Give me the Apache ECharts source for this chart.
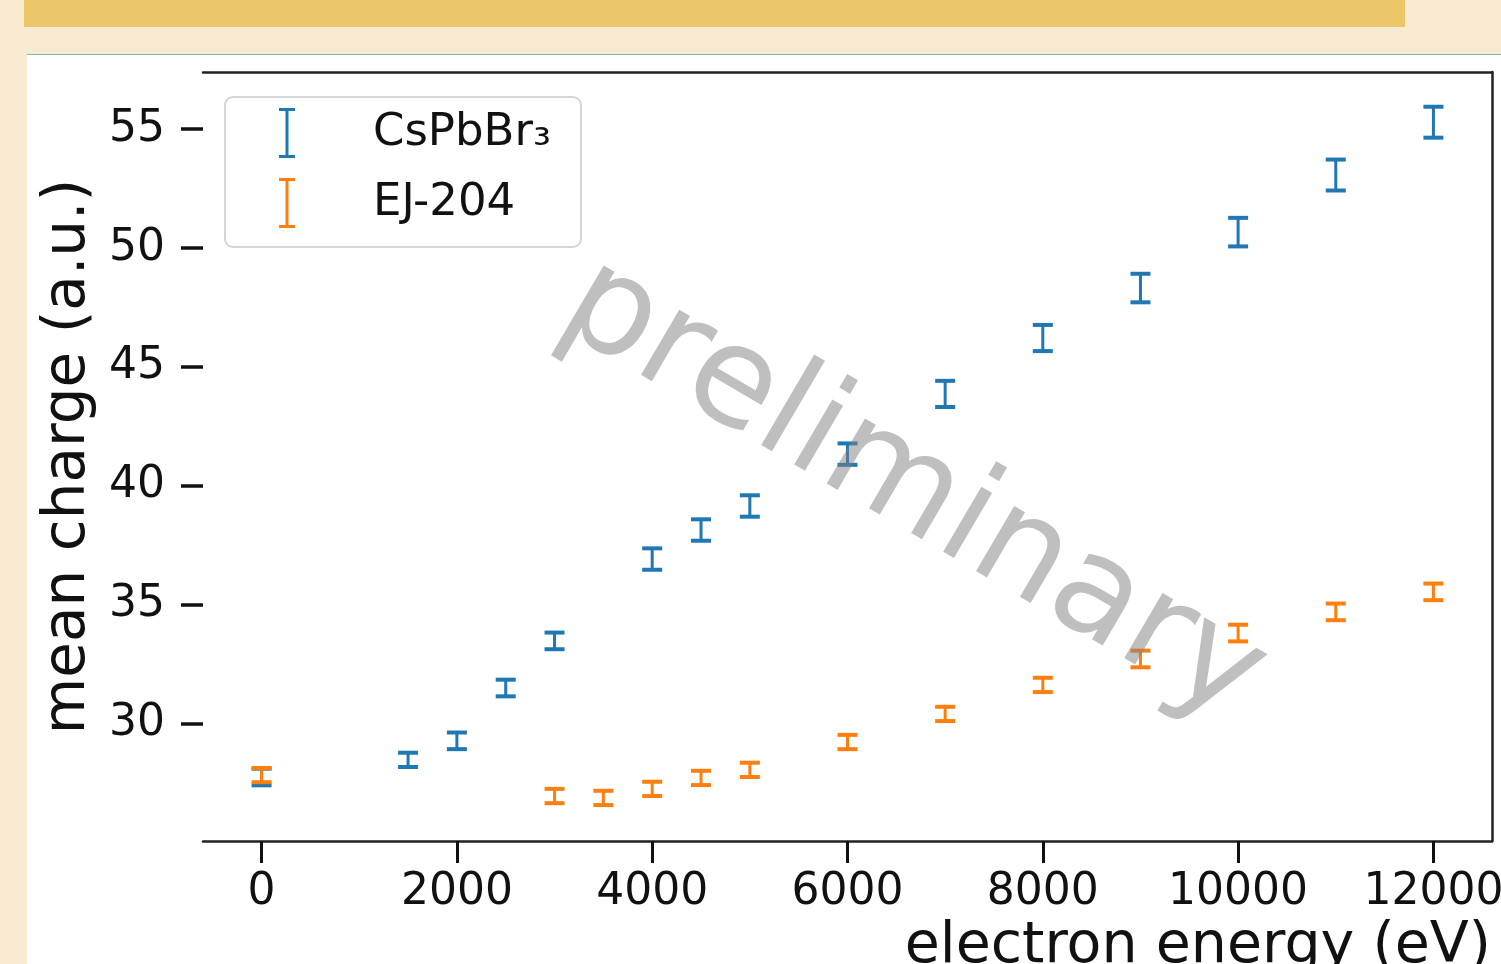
<!DOCTYPE html>
<html>
<head>
<meta charset="utf-8">
<title>mean charge vs electron energy</title>
<script src="https://cdn.jsdelivr.net/npm/echarts@6/dist/echarts.min.js"></script>
<style>
    html, body {
        margin: 0;
        padding: 0;
        width: 1501px;
        height: 964px;
        overflow: hidden;
        background: #f9ebd1;
    }
    .topBar {
        position: absolute;
        left: 24px;
        top: 0;
        width: 1381px;
        height: 27px;
        background: #ebc76a;
    }
    .panel {
        position: absolute;
        left: 27px;
        top: 54px;
        right: 0;
        bottom: 0;
        background: #fff;
        border-top: 1px solid #7db9a5;
    }
    #chart {
        position: absolute;
        left: 0;
        top: 0;
        width: 1501px;
        height: 964px;
    }
</style>
</head>
<body>
<div class="topBar"></div>
<div class="panel"></div>
<div id="chart"></div>
<script>
    // CsPbBr3 measurements
    let energyCs = [0, 1500, 2000, 2500, 3000, 4000, 4500, 5000, 6000, 7000, 8000, 9000, 10000, 11000, 12000];
    let chargeCs = [27.77, 28.49, 29.29, 31.51, 33.49, 36.93, 38.15, 39.16, 41.34, 43.87, 46.22, 48.32, 50.67, 53.07, 55.29];
    let errCs = [0.35, 0.3, 0.35, 0.35, 0.35, 0.45, 0.45, 0.45, 0.45, 0.55, 0.55, 0.6, 0.6, 0.65, 0.65];

    // EJ-204 measurements
    let energyEj = [0, 3000, 3500, 4000, 4500, 5000, 6000, 7000, 8000, 9000, 10000, 11000, 12000];
    let chargeEj = [27.85, 26.97, 26.89, 27.27, 27.73, 28.07, 29.24, 30.42, 31.64, 32.73, 33.82, 34.71, 35.55];
    let errEj = [0.3, 0.3, 0.3, 0.3, 0.3, 0.3, 0.3, 0.3, 0.3, 0.35, 0.35, 0.35, 0.35];

    let xTicks = [0, 2000, 4000, 6000, 8000, 10000, 12000];
    let yTicks = [30, 35, 40, 45, 50, 55];

    const FONT = 'DejaVu Sans';

    function toRows(xs, ys, es) {
        let result = [];
        for (let i = 0; i < xs.length; i++) {
            result.push([xs[i], ys[i], es[i]]);
        }
        return result;
    }

    // vertical bar with caps, like matplotlib errorbar(fmt='none', capsize=...)
    function errorBar(params, api) {
        let x = api.value(0);
        let y = api.value(1);
        let e = api.value(2);
        let hi = api.coord([x, y + e]);
        let lo = api.coord([x, y - e]);
        let half = 10;
        let color = api.visual('color');
        let stem = {stroke: color, lineWidth: 3, fill: null};
        let cap = {stroke: color, lineWidth: 4, fill: null};
        return {
            type: 'group',
            children: [
                {type: 'line', shape: {x1: hi[0], y1: hi[1], x2: lo[0], y2: lo[1]}, style: stem},
                {type: 'line', shape: {x1: hi[0] - half, y1: hi[1], x2: hi[0] + half, y2: hi[1]}, style: cap},
                {type: 'line', shape: {x1: lo[0] - half, y1: lo[1], x2: lo[0] + half, y2: lo[1]}, style: cap}
            ]
        };
    }

    let spine = {show: true, onZero: false, lineStyle: {color: '#222', width: 2.5}};
    let plain = function (v) {
        return String(v);
    };

    let option = {
        animation: false,
        textStyle: {fontFamily: FONT},
        grid: {left: 203, right: 9, top: 72, bottom: 123, containLabel: false, outerBoundsMode: 'none'},
        legend: {
            orient: 'vertical',
            left: 225,
            top: 97,
            padding: [11, 30, 19, 54],
            itemGap: 20,
            itemWidth: 16,
            itemHeight: 50,
            icon: 'path://M0,0H16V3H9.5V47H16V50H0V47H6.5V3H0Z',
            backgroundColor: '#fff',
            borderColor: '#d6d6d6',
            borderWidth: 2,
            borderRadius: 8,
            textStyle: {fontFamily: FONT, fontSize: 45, color: '#111', padding: [8, 0, 0, 73]},
            data: ['CsPbBr₃', 'EJ-204']
        },
        xAxis: [{
            type: 'value',
            min: -600,
            max: 12600,
            splitLine: {show: false},
            axisLine: spine,
            axisTick: {show: true, length: 22, lineStyle: {color: '#111', width: 3}, customValues: xTicks},
            axisLabel: {fontFamily: FONT, fontSize: 44, color: '#111', margin: 30, customValues: xTicks, formatter: plain},
            name: 'electron energy (eV)',
            nameLocation: 'end',
            nameGap: -1,
            nameTextStyle: {fontFamily: FONT, fontSize: 57, color: '#111', align: 'right', verticalAlign: 'top', padding: [78, 0, 0, 0]}
        }, {
            type: 'value',
            position: 'top',
            min: -600,
            max: 12600,
            splitLine: {show: false},
            axisLine: spine,
            axisTick: {show: false},
            axisLabel: {show: false}
        }],
        yAxis: [{
            type: 'value',
            min: 25.08,
            max: 57.4,
            splitLine: {show: false},
            axisLine: {show: false, onZero: false},
            axisTick: {show: true, length: 22, lineStyle: {color: '#111', width: 3.5}, customValues: yTicks},
            axisLabel: {fontFamily: FONT, fontSize: 44, color: '#111', margin: 38, customValues: yTicks, formatter: plain},
            name: 'mean charge (a.u.)',
            nameLocation: 'middle',
            nameGap: 100,
            nameTextStyle: {fontFamily: FONT, fontSize: 58, color: '#111'}
        }, {
            type: 'value',
            position: 'right',
            min: 25.08,
            max: 57.4,
            splitLine: {show: false},
            axisLine: spine,
            axisTick: {show: false},
            axisLabel: {show: false}
        }],
        graphic: [{
            type: 'text',
            x: 912,
            y: 492,
            rotation: -0.53,
            z: 100,
            silent: true,
            style: {
                text: 'preliminary',
                font: '138px "DejaVu Sans"',
                fill: 'rgba(128,128,128,0.5)',
                align: 'center',
                verticalAlign: 'middle'
            }
        }],
        series: [{
            name: 'CsPbBr₃',
            type: 'custom',
            renderItem: errorBar,
            itemStyle: {color: '#1f77b4'},
            encode: {x: 0, y: [1]},
            data: toRows(energyCs, chargeCs, errCs)
        }, {
            name: 'EJ-204',
            type: 'custom',
            renderItem: errorBar,
            itemStyle: {color: '#ff7f0e'},
            encode: {x: 0, y: [1]},
            data: toRows(energyEj, chargeEj, errEj)
        }]
    };

    let myChart = echarts.init(document.getElementById('chart'));
    myChart.setOption(option);
</script>
</body>
</html>
